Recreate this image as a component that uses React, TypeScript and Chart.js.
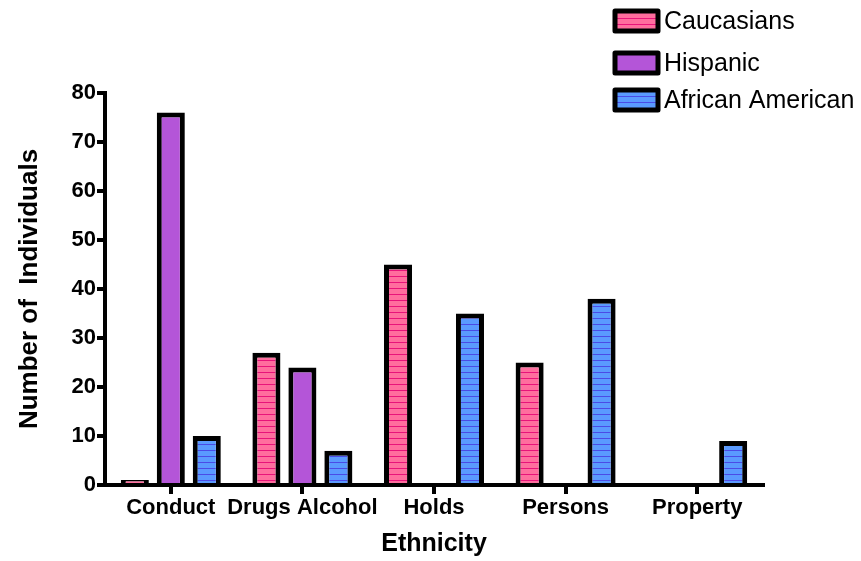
import React, { useEffect, useRef } from "react";
import { Chart, registerables } from "chart.js";

Chart.register(...registerables);

const categories = ["Conduct", "Drugs Alcohol", "Holds", "Persons", "Property"];
const caucasians = [1, 27, 45, 25, 0];
const hispanic = [76, 24, 0, 0, 0];
const africanAmerican = [10, 7, 35, 38, 9];
const seriesNames = ["Caucasians", "Hispanic", "African American"];
const yTicks = [0, 10, 20, 30, 40, 50, 60, 70, 80];

function makePattern(base: string, stripe: string | null): CanvasPattern | string {
  if (!stripe) return base;
  const c = document.createElement("canvas");
  c.width = 8;
  c.height = 6;
  const g = c.getContext("2d")!;
  g.fillStyle = base;
  g.fillRect(0, 0, 8, 6);
  g.fillStyle = stripe;
  g.fillRect(0, 0, 8, 1);
  const p = g.createPattern(c, "repeat");
  return p || base;
}

export default function App() {
  const ref = useRef<HTMLCanvasElement>(null);
  useEffect(() => {
    document.body.style.margin = "0";
    const ctx = ref.current!.getContext("2d")!;
    const fills = [
      makePattern("#ff6e9e", "#e8147a"),
      makePattern("#b455d8", null),
      makePattern("#5a9aff", "#4b4be6"),
    ];
    const font = "'Liberation Sans', Arial, sans-serif";
    const legendPlugin = {
      id: "customLegend",
      afterDraw(chart: any) {
        const c = chart.ctx as CanvasRenderingContext2D;
        const ys = [21, 63, 100];
        c.save();
        seriesNames.forEach((name, i) => {
          const x = 615, y = ys[i] - 10, w = 43, h = 20;
          c.fillStyle = fills[i] as any;
          c.fillRect(x, y, w, h);
          c.lineWidth = 5;
          c.strokeStyle = "#000";
          c.lineJoin = "round";
          c.strokeRect(x, y, w, h);
          c.fillStyle = "#000";
          c.font = `25px ${font}`;
          c.textBaseline = "middle";
          c.textAlign = "left";
          c.fillText(name, 664, ys[i] + 1);
        });
        c.restore();
      },
    };
    const mk = (label: string, data: number[], i: number) => ({
      label,
      data,
      backgroundColor: fills[i] as any,
      borderColor: "#000",
      borderWidth: 5,
      borderSkipped: "bottom" as const,
      categoryPercentage: 0.82,
      barPercentage: 0.78,
    });
    const chart = new Chart(ctx, {
      type: "bar",
      data: {
        labels: categories,
        datasets: [
          mk(seriesNames[0], caucasians, 0),
          mk(seriesNames[1], hispanic, 1),
          mk(seriesNames[2], africanAmerican, 2),
        ],
      },
      options: {
        animation: false,
        responsive: false,
        layout: { padding: { top: 93, right: 98, left: 0, bottom: 0 } },
        plugins: { legend: { display: false }, tooltip: { enabled: false } },
        scales: {
          x: {
            grid: {
              offset: false,
              drawOnChartArea: false,
              color: "#000",
              lineWidth: 4,
              tickLength: 9,
            },
            border: { color: "#000", width: 4 },
            ticks: {
              color: "#000",
              font: { family: font, size: 22, weight: "bold" },
              padding: 1,
              maxRotation: 0,
              autoSkip: false,
            },
            title: {
              display: true,
              text: "Ethnicity",
              color: "#000",
              font: { family: font, size: 25, weight: "bold" },
              padding: { top: 0, bottom: 2 },
            },
            afterFit(scale: any) {
              scale.height = 76;
            },
          },
          y: {
            min: 0,
            max: 80,
            afterBuildTicks(scale: any) {
              scale.ticks = yTicks.map((v) => ({ value: v }));
            },
            grid: {
              drawOnChartArea: false,
              color: "#000",
              lineWidth: 4,
              tickLength: 8,
            },
            border: { color: "#000", width: 4 },
            ticks: {
              color: "#000",
              font: { family: font, size: 22, weight: "bold" },
              padding: 1,
            },
            title: {
              display: true,
              text: "Number of  Individuals",
              color: "#000",
              font: { family: font, size: 26, weight: "bold" },
              padding: { top: 14, bottom: 0 },
            },
            afterFit(scale: any) {
              scale.width = 105;
            },
          },
        },
      },
      plugins: [legendPlugin],
    });
    return () => chart.destroy();
  }, []);
  return <canvas ref={ref} width={861} height={561} style={{ display: "block" }} />;
}
